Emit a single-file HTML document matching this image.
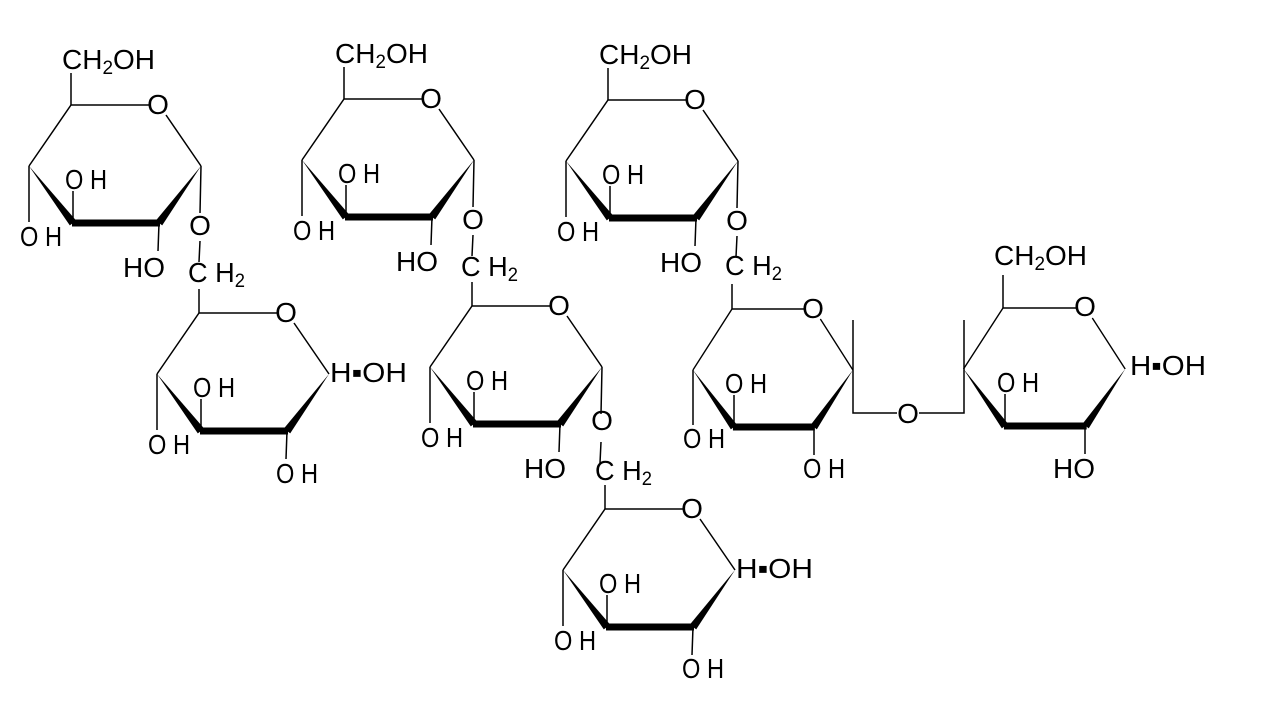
<!DOCTYPE html>
<html><head><meta charset="utf-8"><style>
html,body{margin:0;padding:0;background:#fff;width:1280px;height:720px;overflow:hidden}
svg text{font-family:"Liberation Sans","DejaVu Sans",sans-serif;font-size:28px;fill:#000}
</style></head><body>
<svg width="1280" height="720" viewBox="0 0 1280 720" xmlns="http://www.w3.org/2000/svg">
<defs>
<g id="ring">
<path d="M-42,61 L0,0 L78,0 M95,10 L130,61" stroke="#000" stroke-width="1.5" fill="none"/>
<polygon points="-42,61 5.2,115.6 -1.2,120.4" fill="#000"/>
<line x1="1" y1="118" x2="89" y2="118" stroke="#000" stroke-width="7"/>
<polygon points="130,61 91.2,120.4 84.8,115.6" fill="#000"/>
</g>
<g id="subs">
<path d="M2,118 L2,86 M-42,61 L-42,117 M88,118 L87,146" stroke="#000" stroke-width="1.5" fill="none"/>
</g>
<g id="glyco">
<path d="M130,61 L129,108 M129,136 L128,157" stroke="#000" stroke-width="1.5" fill="none"/>
</g>
</defs>

<!-- Ring 1 -->
<g transform="translate(71,105)">
<use href="#ring"/><use href="#subs"/><use href="#glyco"/>
<line x1="0" y1="0" x2="0" y2="-32" stroke="#000" stroke-width="1.5"/>
<text x="87" y="9" text-anchor="middle">O</text>
<text x="-9" y="-36" textLength="93" lengthAdjust="spacingAndGlyphs">CH<tspan font-size="19" dy="5">2</tspan><tspan dy="-5">OH</tspan></text>
<text x="-6" y="84" textLength="42" lengthAdjust="spacingAndGlyphs">O H</text>
<text x="-51" y="141" textLength="42" lengthAdjust="spacingAndGlyphs">O H</text>
<text x="52" y="172" textLength="42" lengthAdjust="spacingAndGlyphs">HO</text>
<text x="129" y="130" text-anchor="middle">O</text>
<text x="117" y="177" textLength="57" lengthAdjust="spacingAndGlyphs">C H<tspan font-size="19" dy="5">2</tspan></text>
</g>

<!-- Ring 2 -->
<g transform="translate(199,313)">
<use href="#ring"/><use href="#subs"/>
<line x1="0" y1="0" x2="0" y2="-24" stroke="#000" stroke-width="1.5"/>
<text x="87" y="9" text-anchor="middle">O</text>
<text x="-6" y="84" textLength="42" lengthAdjust="spacingAndGlyphs">O H</text>
<text x="-51" y="141" textLength="42" lengthAdjust="spacingAndGlyphs">O H</text>
<text x="77" y="170" textLength="42" lengthAdjust="spacingAndGlyphs">O H</text>
<text x="131" y="69" textLength="77" lengthAdjust="spacingAndGlyphs">H▪OH</text>
</g>

<!-- Ring 3 -->
<g transform="translate(344,99)">
<use href="#ring"/><use href="#subs"/><use href="#glyco"/>
<line x1="0" y1="0" x2="0" y2="-32" stroke="#000" stroke-width="1.5"/>
<text x="87" y="9" text-anchor="middle">O</text>
<text x="-9" y="-36" textLength="93" lengthAdjust="spacingAndGlyphs">CH<tspan font-size="19" dy="5">2</tspan><tspan dy="-5">OH</tspan></text>
<text x="-6" y="84" textLength="42" lengthAdjust="spacingAndGlyphs">O H</text>
<text x="-51" y="141" textLength="42" lengthAdjust="spacingAndGlyphs">O H</text>
<text x="52" y="172" textLength="42" lengthAdjust="spacingAndGlyphs">HO</text>
<text x="129" y="130" text-anchor="middle">O</text>
<text x="117" y="177" textLength="57" lengthAdjust="spacingAndGlyphs">C H<tspan font-size="19" dy="5">2</tspan></text>
</g>

<!-- Ring 4 -->
<g transform="translate(472,306)">
<use href="#ring"/><use href="#subs"/><use href="#glyco"/>
<line x1="0" y1="0" x2="0" y2="-24" stroke="#000" stroke-width="1.5"/>
<text x="87" y="9" text-anchor="middle">O</text>
<text x="-6" y="84" textLength="42" lengthAdjust="spacingAndGlyphs">O H</text>
<text x="-51" y="141" textLength="42" lengthAdjust="spacingAndGlyphs">O H</text>
<text x="52" y="172" textLength="42" lengthAdjust="spacingAndGlyphs">HO</text>
<text x="130" y="124" text-anchor="middle">O</text>
<text x="123" y="174" textLength="57" lengthAdjust="spacingAndGlyphs">C H<tspan font-size="19" dy="5">2</tspan></text>
</g>

<!-- Ring 5 -->
<g transform="translate(608,100)">
<use href="#ring"/><use href="#subs"/><use href="#glyco"/>
<line x1="0" y1="0" x2="0" y2="-32" stroke="#000" stroke-width="1.5"/>
<text x="87" y="9" text-anchor="middle">O</text>
<text x="-9" y="-36" textLength="93" lengthAdjust="spacingAndGlyphs">CH<tspan font-size="19" dy="5">2</tspan><tspan dy="-5">OH</tspan></text>
<text x="-6" y="84" textLength="42" lengthAdjust="spacingAndGlyphs">O H</text>
<text x="-51" y="141" textLength="42" lengthAdjust="spacingAndGlyphs">O H</text>
<text x="52" y="172" textLength="42" lengthAdjust="spacingAndGlyphs">HO</text>
<text x="129" y="130" text-anchor="middle">O</text>
<text x="117" y="175" textLength="57" lengthAdjust="spacingAndGlyphs">C H<tspan font-size="19" dy="5">2</tspan></text>
</g>

<!-- Ring 6 -->
<g transform="translate(605,509)">
<use href="#ring"/><use href="#subs"/>
<line x1="0" y1="0" x2="0" y2="-24" stroke="#000" stroke-width="1.5"/>
<text x="87" y="9" text-anchor="middle">O</text>
<text x="-6" y="84" textLength="42" lengthAdjust="spacingAndGlyphs">O H</text>
<text x="-51" y="141" textLength="42" lengthAdjust="spacingAndGlyphs">O H</text>
<text x="77" y="169" textLength="42" lengthAdjust="spacingAndGlyphs">O H</text>
<text x="131" y="69" textLength="77" lengthAdjust="spacingAndGlyphs">H▪OH</text>
</g>

<!-- Ring 7 -->
<g transform="translate(732,309) scale(0.93,1)"><use href="#ring"/></g>
<text x="813" y="318" text-anchor="middle">O</text>
<path d="M732,309 L732,284 M693,370 L693,425 M734,427 L734,395 M814,427 L814,455 M853,320 L853,413 L897,413 M919,413 L964,413 L964,320" stroke="#000" stroke-width="1.5" fill="none"/>
<text x="683" y="448" textLength="42" lengthAdjust="spacingAndGlyphs">O H</text>
<text x="725" y="393" textLength="42" lengthAdjust="spacingAndGlyphs">O H</text>
<text x="803" y="478" textLength="42" lengthAdjust="spacingAndGlyphs">O H</text>
<text x="908" y="423" text-anchor="middle">O</text>

<!-- Ring 8 -->
<g transform="translate(1003,308) scale(0.94,1)"><use href="#ring"/></g>
<text x="1085" y="316" text-anchor="middle">O</text>
<path d="M1003,308 L1003,275 M1005,426 L1005,394 M1085,426 L1085,454" stroke="#000" stroke-width="1.5" fill="none"/>
<text x="994" y="265" textLength="93" lengthAdjust="spacingAndGlyphs">CH<tspan font-size="19" dy="5">2</tspan><tspan dy="-5">OH</tspan></text>
<text x="997" y="392" textLength="42" lengthAdjust="spacingAndGlyphs">O H</text>
<text x="1053" y="478" textLength="42" lengthAdjust="spacingAndGlyphs">HO</text>
<text x="1130" y="375" textLength="76" lengthAdjust="spacingAndGlyphs">H▪OH</text>
</svg>
</body></html>
